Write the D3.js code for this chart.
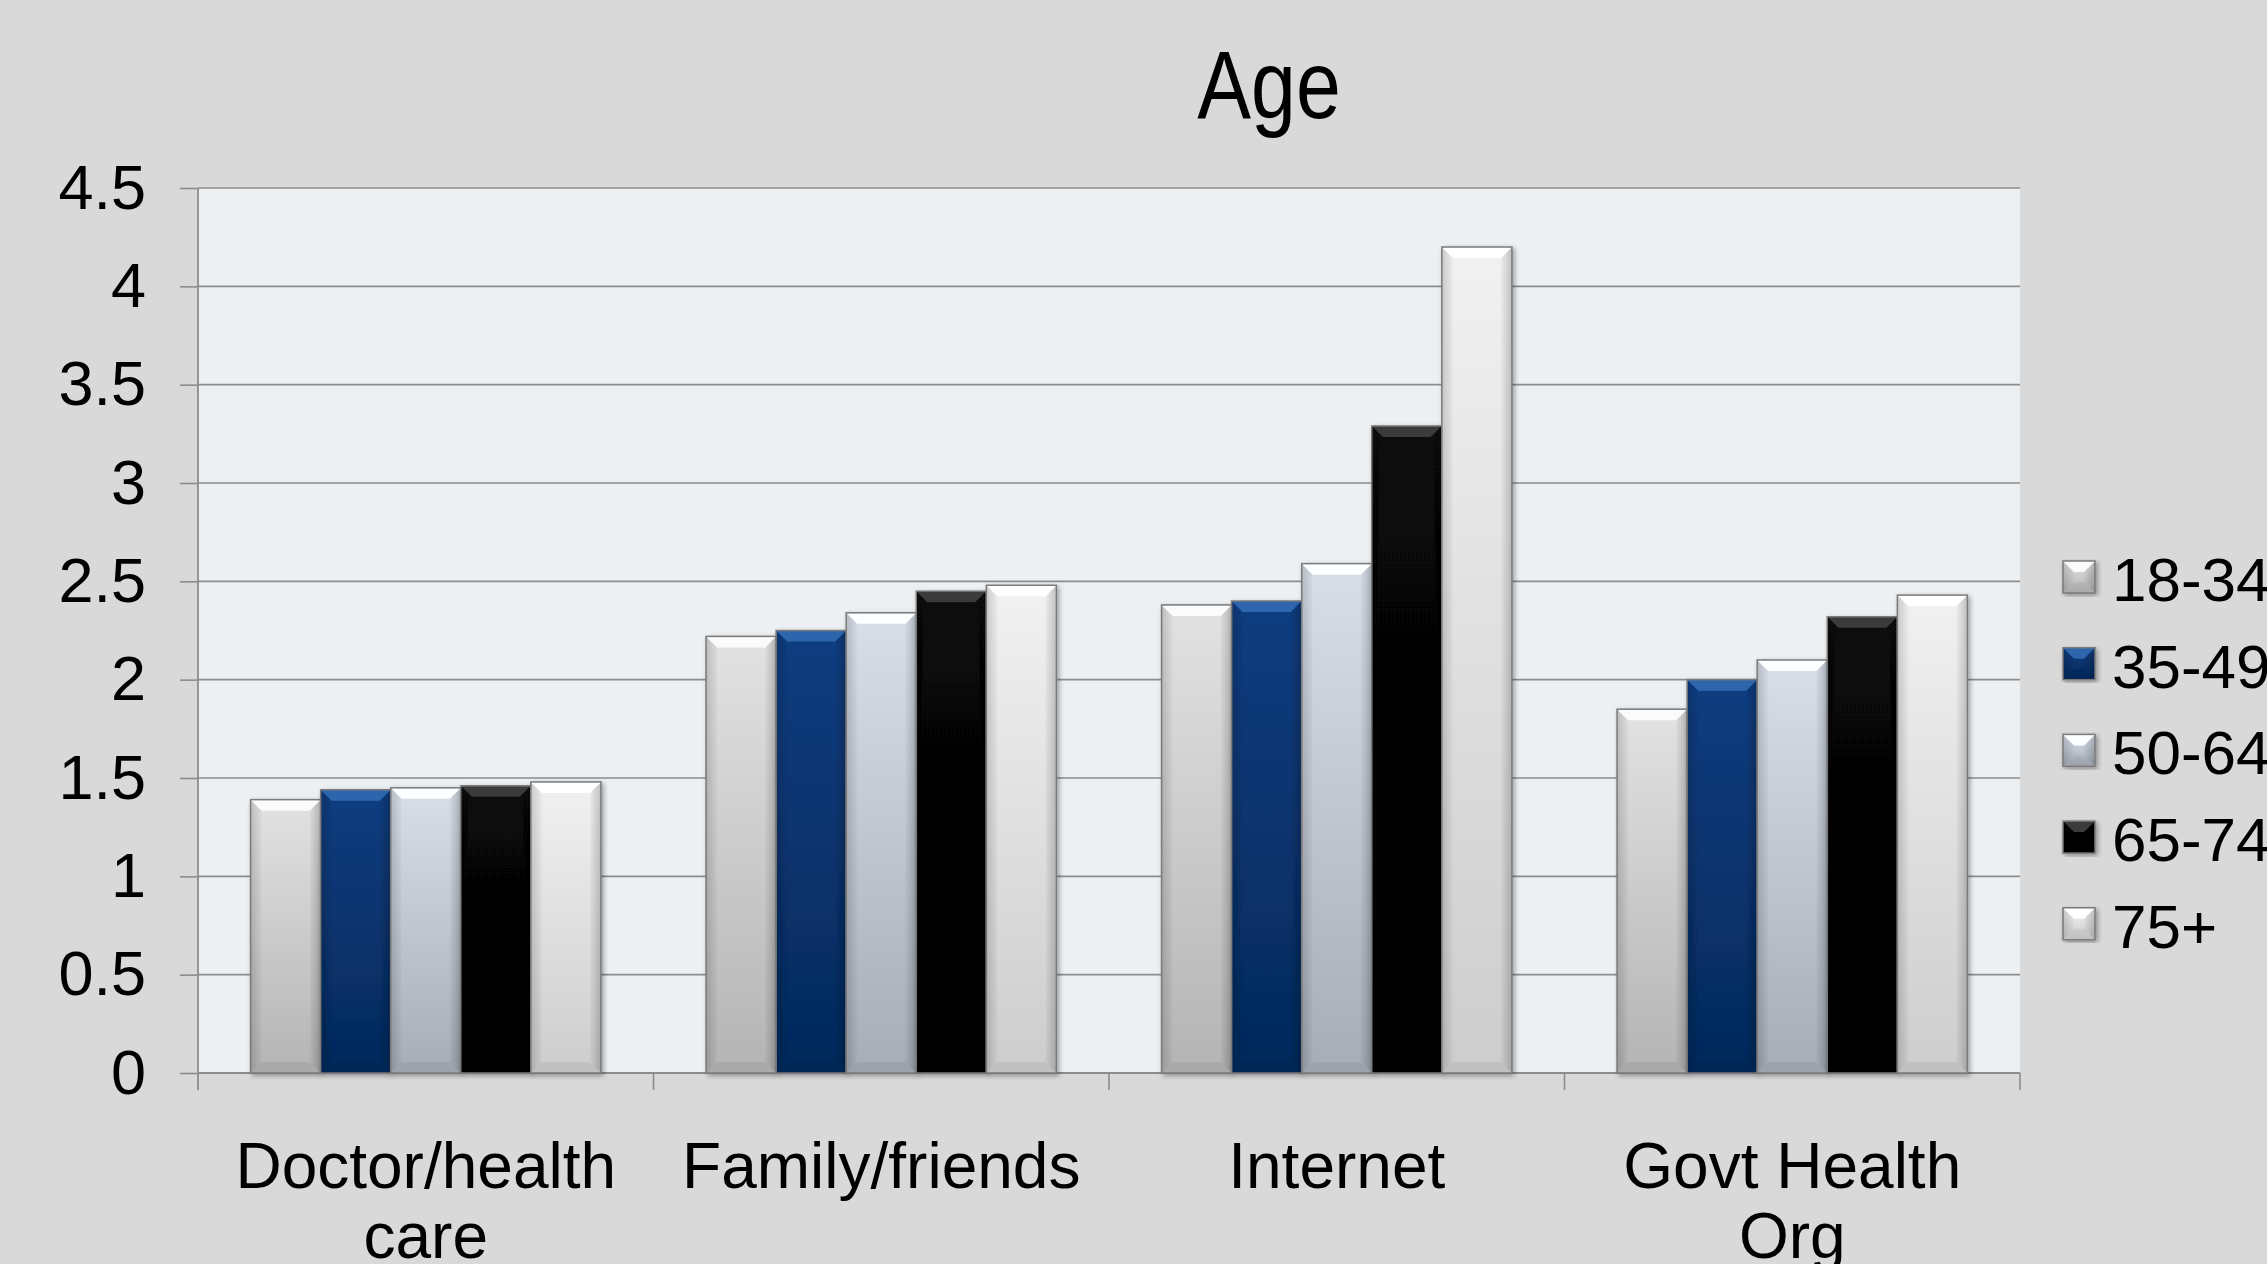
<!DOCTYPE html>
<html>
<head>
<meta charset="utf-8">
<script src="https://cdn.jsdelivr.net/npm/d3@7"></script>
<style>
  html, body { margin: 0; padding: 0; background: #d9d9d9; overflow: hidden; }
  svg { display: block; }
  text { font-family: "Liberation Sans", Arial, sans-serif; fill: #000; }
</style>
</head>
<body>
<svg id="chart" width="2267" height="1264"></svg>
<script>
// ---------- data ----------
const title = "Age";
const categories = ["Doctor/health care", "Family/friends", "Internet", "Govt Health Org"];
const seriesNames = ["18-34", "35-49", "50-64", "65-74", "75+"];
const s18_34 = [1.39, 2.22, 2.38, 1.85];
const s35_49 = [1.44, 2.25, 2.40, 2.00];
const s50_64 = [1.45, 2.34, 2.59, 2.10];
const s65_74 = [1.46, 2.45, 3.29, 2.32];
const s75plus = [1.48, 2.48, 4.20, 2.43];
const yTicks = [0, 0.5, 1, 1.5, 2, 2.5, 3, 3.5, 4, 4.5];
const yTickLabels = ["0", "0.5", "1", "1.5", "2", "2.5", "3", "3.5", "4", "4.5"];

const seriesValues = [s18_34, s35_49, s50_64, s65_74, s75plus];

// ---------- style ----------
const W = 2267, H = 1264;
const plot = { left: 198, right: 2020, top: 188, bottom: 1073 };
const gridColor = "#8c8c8c";
const plotBg = "#ecf0f3";
// [top colour, bottom colour, top bevel colour]
const barStyles = [
  ["#e2e2e2", "#b4b4b4", "#fbfbfb"],
  ["#0b3d80", "#05295b", "#2f66ad"],
  ["#d8dfe8", "#a6adb8", "#fdfeff"],
  ["#080808", "#020202", "#3a3a3a"],
  ["#f1f1f1", "#cdcdcd", "#ffffff"]
];
const bevel = 11;

const svg = d3.select("#chart");
const defs = svg.append("defs");

barStyles.forEach((st, i) => {
  const g = defs.append("linearGradient").attr("id", "grad" + i)
    .attr("x1", 0).attr("y1", 0).attr("x2", 0).attr("y2", 1);
  g.append("stop").attr("offset", "0%").attr("stop-color", st[0]);
  g.append("stop").attr("offset", "100%").attr("stop-color", st[1]);
});
const sideL = defs.append("linearGradient").attr("id", "sideL")
  .attr("x1", 0).attr("y1", 0).attr("x2", 1).attr("y2", 0);
sideL.append("stop").attr("offset", "0%").attr("stop-color", "#000").attr("stop-opacity", 0.16);
sideL.append("stop").attr("offset", "100%").attr("stop-color", "#000").attr("stop-opacity", 0.02);
const sideR = defs.append("linearGradient").attr("id", "sideR")
  .attr("x1", 0).attr("y1", 0).attr("x2", 1).attr("y2", 0);
sideR.append("stop").attr("offset", "0%").attr("stop-color", "#000").attr("stop-opacity", 0.02);
sideR.append("stop").attr("offset", "100%").attr("stop-color", "#000").attr("stop-opacity", 0.2);

const shadow = defs.append("filter").attr("id", "shadow")
  .attr("x", "-20%").attr("y", "-5%").attr("width", "140%").attr("height", "115%");
shadow.append("feDropShadow").attr("dx", 2).attr("dy", 2).attr("stdDeviation", 2.5)
  .attr("flood-color", "#000").attr("flood-opacity", 0.35);

// background
svg.append("rect").attr("width", W).attr("height", H).attr("fill", "#d9d9d9");

// scales
const x0 = d3.scaleBand().domain(categories).range([plot.left, plot.right]).padding(0);
const gapRatio = 1.5; // gap width relative to bar width
const barW = x0.bandwidth() / (seriesNames.length + gapRatio);
const x1 = d3.scaleBand().domain(seriesNames)
  .range([barW * gapRatio / 2, x0.bandwidth() - barW * gapRatio / 2]).padding(0);
const y = d3.scaleLinear().domain([0, 4.5]).range([plot.bottom, plot.top]);

// plot area
svg.append("rect")
  .attr("x", plot.left).attr("y", plot.top)
  .attr("width", plot.right - plot.left).attr("height", plot.bottom - plot.top)
  .attr("fill", plotBg);

// gridlines
svg.append("g").selectAll("line").data(yTicks.filter(t => t > 0)).join("line")
  .attr("x1", plot.left).attr("x2", plot.right)
  .attr("y1", d => y(d)).attr("y2", d => y(d))
  .attr("stroke", gridColor).attr("stroke-width", 1.6);

// y axis
const yAxis = d3.axisLeft(y).tickValues(yTicks)
  .tickFormat((d, i) => yTickLabels[i]).tickSize(18).tickPadding(34);
const yg = svg.append("g").attr("transform", `translate(${plot.left},0)`).call(yAxis);
yg.select(".domain").remove();
yg.selectAll(".tick line").attr("stroke", gridColor).attr("stroke-width", 1.6);
yg.selectAll(".tick text").attr("font-size", 63)
  .attr("font-family", "'Liberation Sans', Arial, sans-serif").attr("fill", "#000");
svg.append("line").attr("x1", plot.left).attr("x2", plot.left)
  .attr("y1", plot.top).attr("y2", plot.bottom + 17)
  .attr("stroke", gridColor).attr("stroke-width", 1.8);

// x axis line and category boundary ticks
svg.append("line").attr("x1", plot.left).attr("x2", plot.right)
  .attr("y1", plot.bottom).attr("y2", plot.bottom)
  .attr("stroke", gridColor).attr("stroke-width", 1.8);
const boundaries = categories.map(c => x0(c)).concat([x0(categories[categories.length - 1]) + x0.bandwidth()]);
svg.append("g").selectAll("line").data(boundaries.slice(1)).join("line")
  .attr("x1", d => d).attr("x2", d => d)
  .attr("y1", plot.bottom).attr("y2", plot.bottom + 17)
  .attr("stroke", gridColor).attr("stroke-width", 1.6);

// bars
function drawBar(g, bx, by, bw, bh, si) {
  const st = barStyles[si];
  const b = Math.min(bevel, bh / 2);
  const bar = g.append("g").attr("filter", "url(#shadow)");
  bar.append("rect").attr("x", bx).attr("y", by).attr("width", bw).attr("height", bh)
    .attr("fill", `url(#grad${si})`);
  // left bevel
  bar.append("polygon")
    .attr("points", [[bx, by], [bx + b, by + b], [bx + b, by + bh - b], [bx, by + bh]].join(" "))
    .attr("fill", "url(#sideL)");
  // right bevel
  bar.append("polygon")
    .attr("points", [[bx + bw, by], [bx + bw - b, by + b], [bx + bw - b, by + bh - b], [bx + bw, by + bh]].join(" "))
    .attr("fill", "url(#sideR)");
  // bottom bevel
  bar.append("polygon")
    .attr("points", [[bx, by + bh], [bx + b, by + bh - b], [bx + bw - b, by + bh - b], [bx + bw, by + bh]].join(" "))
    .attr("fill", "#000").attr("fill-opacity", 0.06);
  // top bevel
  bar.append("polygon")
    .attr("points", [[bx, by], [bx + bw, by], [bx + bw - b, by + b], [bx + b, by + b]].join(" "))
    .attr("fill", st[2]);
  bar.append("rect").attr("x", bx).attr("y", by).attr("width", bw).attr("height", bh)
    .attr("fill", "none").attr("stroke", "#7a7a7a").attr("stroke-width", 1.5);
}

const barsG = svg.append("g");
categories.forEach((cat, ci) => {
  seriesNames.forEach((sn, si) => {
    const v = seriesValues[si][ci];
    const bx = x0(cat) + x1(sn);
    const by = y(v);
    drawBar(barsG, bx, by, x1.bandwidth(), y(0) - by, si);
  });
});

// category labels (wrapped)
const catG = svg.append("g");
categories.forEach(cat => {
  const cx = x0(cat) + x0.bandwidth() / 2;
  const t = catG.append("text").attr("x", cx).attr("y", 1188)
    .attr("text-anchor", "middle").attr("font-size", 64);
  const words = cat.split(" ");
  let line = [];
  let lineNo = 0;
  let tspan = t.append("tspan").attr("x", cx).attr("y", 1188);
  words.forEach(w => {
    line.push(w);
    tspan.text(line.join(" "));
    if (tspan.node().getComputedTextLength() > x0.bandwidth() - 10 && line.length > 1) {
      line.pop();
      tspan.text(line.join(" "));
      line = [w];
      lineNo++;
      tspan = t.append("tspan").attr("x", cx).attr("y", 1188 + lineNo * 70).text(w);
    }
  });
});

// title
svg.append("text")
  .attr("transform", "translate(1269,118) scale(0.84,1)")
  .attr("text-anchor", "middle").attr("font-size", 96)
  .text(title);

// legend
const legend = svg.append("g").attr("transform", "translate(2063,561)");
const ly = d3.scaleLinear().domain([0, 1]).range([0, 86.7]);
seriesNames.forEach((sn, i) => {
  const g = legend.append("g").attr("transform", `translate(0,${ly(i)})`);
  drawBar(g, 0, 0, 32, 32, i);
  g.append("text").attr("x", 49).attr("y", 40).attr("font-size", 62).text(sn);
});
</script>
</body>
</html>
